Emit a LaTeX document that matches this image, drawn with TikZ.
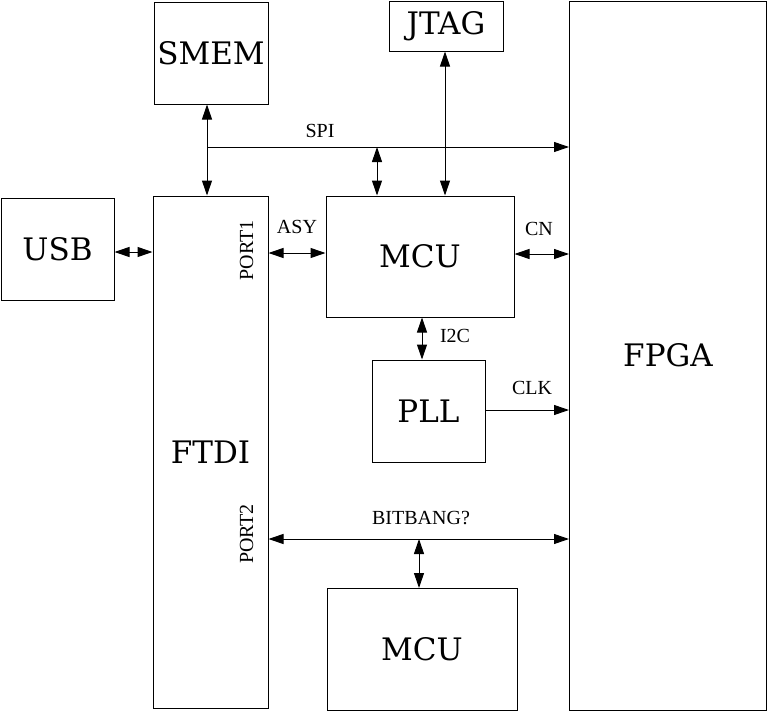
\documentclass[tikz,border=0pt]{standalone}
\usepackage{fontspec}
\setmainfont{Liberation Serif}
\newfontfamily\bigfont{DejaVu Serif}
\usetikzlibrary{arrows.meta}
\begin{document}
\begin{tikzpicture}[x=1pt,y=-1pt,
  box/.style={draw,line width=1pt,inner sep=0pt,font=\bigfont\fontsize{31}{37}\selectfont},
  lbl/.style={inner sep=0pt,font=\fontsize{20}{24}\selectfont},
  conn/.style={line width=1pt,{Triangle[length=15pt,width=10pt]}-{Triangle[length=15pt,width=10pt]}},
  oneway/.style={line width=1pt,-{Triangle[length=15pt,width=10pt]}}]
\useasboundingbox (0,0) rectangle (769,712);
\node[box,minimum width=114pt,minimum height=102pt] (smem) at (211,53) {SMEM};
\node[box,minimum width=114pt,minimum height=50pt] (jtag) at (446,26) {JTAG};
\node[box,minimum width=197pt,minimum height=709pt] (fpga) at (668,355.5) {FPGA};
\node[box,minimum width=113pt,minimum height=102pt] (usb) at (57.5,249) {USB};
\node[box,minimum width=115pt,minimum height=512pt] (ftdi) at (210.5,452) {FTDI};
\node[box,minimum width=188pt,minimum height=121pt] (mcu) at (420,256.5) {MCU};
\node[box,minimum width=113pt,minimum height=102pt] (pll) at (428.5,411) {PLL};
\node[box,minimum width=190pt,minimum height=122pt] (mcub) at (422,649.5) {MCU};
% coordinates
\coordinate (spiL) at (207,147);
\coordinate (spiM) at (377,147);
\coordinate (jx) at (445,0);
\coordinate (yusb) at (0,252);
\coordinate (yasy) at (0,253);
\coordinate (ycn) at (0,254);
\coordinate (ix) at (422,0);
\coordinate (yclk) at (0,410);
\coordinate (ybb) at (0,539);
\coordinate (bbM) at (419,539);
% connectors
\draw[conn] (spiL |- smem.south) -- (spiL |- ftdi.north);
\draw[oneway] (spiL) -- (spiL -| fpga.west);
\draw[conn] (spiM) -- (spiM |- mcu.north);
\draw[conn] (jx |- jtag.south) -- (jx |- mcu.north);
\draw[conn] (usb.east |- yusb) -- (ftdi.west |- yusb);
\draw[conn] (ftdi.east |- yasy) -- (mcu.west |- yasy);
\draw[conn] (mcu.east |- ycn) -- (fpga.west |- ycn);
\draw[conn] (ix |- mcu.south) -- (ix |- pll.north);
\draw[oneway] (pll.east |- yclk) -- (fpga.west |- yclk);
\draw[conn] (ftdi.east |- ybb) -- (fpga.west |- ybb);
\draw[conn] (bbM) -- (bbM |- mcub.north);
% labels
\node[lbl] (lspi) at (320,131) {SPI};
\node[lbl] (lasy) at (297,227) {ASY};
\node[lbl] (lcn) at (539,229) {CN};
\node[lbl] (li2c) at (455,336) {I2C};
\node[lbl] (lclk) at (532,388) {CLK};
\node[lbl] (lbb) at (421,518) {BITBANG?};
\node[lbl,rotate=90] (lp1) at (246.5,250.5) {PORT1};
\node[lbl,rotate=90] (lp2) at (246.5,534) {PORT2};
\end{tikzpicture}
\end{document}
